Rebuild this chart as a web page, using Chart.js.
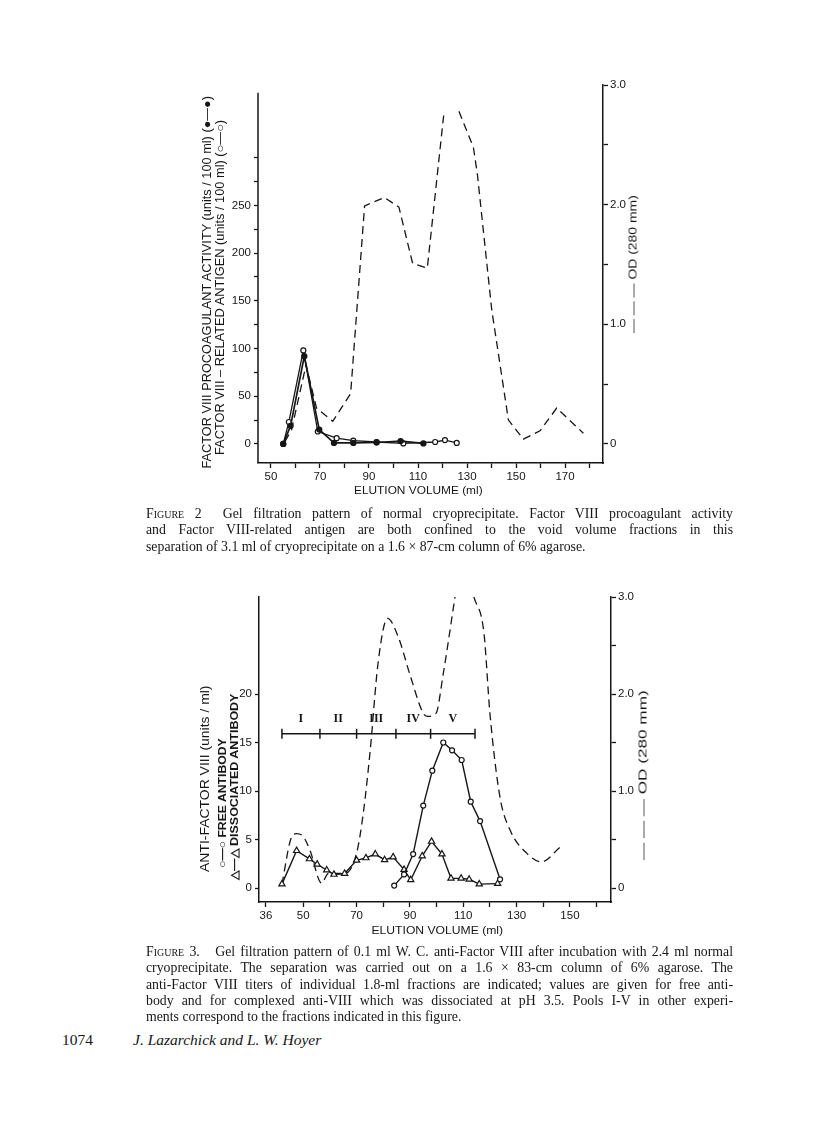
<!DOCTYPE html>
<html>
<head>
<meta charset="utf-8">
<script src="https://cdn.jsdelivr.net/npm/chart.js@4.4.0/dist/chart.umd.min.js"></script>
<style>
html, body { margin: 0; padding: 0; background: #fff; }
body { width: 816px; height: 1127px; position: relative; overflow: hidden; color: #161616; }
canvas { position: absolute; }
.rot { position: absolute; left: 0; top: 0; white-space: nowrap; transform-origin: 0 0; line-height: 1; }
.cap { position: absolute; left: 146px; width: 587px; font-family: 'Liberation Serif', serif; font-size: 13.8px; line-height: 16.3px; }
.cap div { text-align: justify; text-align-last: justify; white-space: nowrap; }
.cap div.last { text-align-last: left; }
.sc { font-variant: small-caps; }
.foot { position: absolute; top: 1031px; font-family: 'Liberation Serif', serif; font-size: 15.5px; }
</style>
</head>
<body>
<canvas id="fig2" width="470" height="440" style="left:190px; top:70px;"></canvas>
<canvas id="fig3" width="470" height="360" style="left:190px; top:585px;"></canvas>

<div class="cap" style="top:506px;">
  <div><span class="sc">Figure</span> 2&nbsp; Gel filtration pattern of normal cryoprecipitate. Factor VIII procoagulant activity</div>
  <div>and Factor VIII-related antigen are both confined to the void volume fractions in this</div>
  <div class="last">separation of 3.1 ml of cryoprecipitate on a 1.6 × 87-cm column of 6% agarose.</div>
</div>

<div class="cap" style="top:944px;">
  <div><span class="sc">Figure</span> 3.&nbsp;&nbsp; Gel filtration pattern of 0.1 ml W. C. anti-Factor VIII after incubation with 2.4 ml normal</div>
  <div>cryoprecipitate. The separation was carried out on a 1.6 × 83-cm column of 6% agarose. The</div>
  <div>anti-Factor VIII titers of individual 1.8-ml fractions are indicated; values are given for free anti-</div>
  <div>body and for complexed anti-VIII which was dissociated at pH 3.5. Pools I-V in other experi-</div>
  <div class="last">ments correspond to the fractions indicated in this figure.</div>
</div>

<div class="foot" style="left:62px;">1074</div>
<div class="foot" style="left:133px; font-style:italic;">J. Lazarchick and L. W. Hoyer</div>

<script>
// ---- Figure 2 : normal cryoprecipitate ----
const fig2ProcoagVol = [55.0, 58.0, 63.6, 69.7, 75.7, 83.6, 93.1, 102.9, 112.2];
const fig2ProcoagAct = [0, 19, 92, 15, 1, 1, 1.5, 3, 0.5];
const fig2AntigenVol = [55.0, 57.3, 63.2, 69.1, 76.8, 83.6, 93.1, 104.0, 117.0, 121.0, 125.8];
const fig2AntigenAct = [0, 23, 98, 13, 6, 3.5, 2, 0.5, 2, 4, 1];
const fig2OdVol = [55.7, 58.4, 64.3, 68.6, 75.2, 82.5, 88.2, 96.3, 102.2, 107.8, 113.8, 120.6, 123.6, 126.7, 132.6, 134.2, 140.1, 146.9, 153.0, 159.8, 166.6, 177.5];
const fig2Od = [0.02, 0.12, 0.66, 0.30, 0.19, 0.42, 1.99, 2.06, 1.98, 1.51, 1.47, 2.77, null, 2.78, 2.48, 2.26, 1.12, 0.20, 0.04, 0.11, 0.30, 0.09];

const fig2XTicks = [50, 60, 70, 80, 90, 100, 110, 120, 130, 140, 150, 160, 170, 180];
const fig2XLabels = [50, 70, 90, 110, 130, 150, 170];
const fig2YTicks = [0, 25, 50, 75, 100, 125, 150, 175, 200, 225, 250, 275, 300];
const fig2YLabels = [0, 50, 100, 150, 200, 250];
const fig2OdTicks = [0, 0.5, 1, 1.5, 2, 2.5, 3];
const fig2OdLabels = [0, 1, 2, 3];

// ---- Figure 3 : anti-Factor VIII + cryoprecipitate ----
const fig3FreeVol = [84.1, 87.8, 91.2, 95.0, 98.4, 102.5, 105.8, 109.4, 112.8, 116.3, 123.8];
const fig3FreeTiter = [0.25, 1.4, 3.5, 8.5, 12.1, 15.0, 14.2, 13.2, 8.9, 6.9, 0.9];
const fig3DissocVol = [42.0, 47.5, 52.3, 55.2, 58.8, 61.5, 65.5, 70.0, 73.5, 77.0, 80.5, 83.7, 87.8, 90.3, 94.6, 98.1, 102.0, 105.4, 109.2, 112.2, 116.0, 122.9];
const fig3DissocTiter = [0.4, 3.85, 3.0, 2.45, 1.85, 1.4, 1.5, 2.85, 3.1, 3.5, 2.9, 3.2, 1.9, 0.85, 3.3, 4.8, 3.5, 1.0, 1.0, 0.9, 0.4, 0.45];
const fig3OdVol = [42.0, 45.7, 47.5, 50.0, 52.5, 56.9, 59.4, 65.5, 70.0, 72.5, 75.0, 78.1, 81.6, 85.6, 90.0, 95.0, 96.5, 99.75, 102.5, 106.9, 110.5, 114.0, 117.75, 120.0, 123.75, 127.5, 133.75, 139.4, 146.25];
const fig3Od = [0.04, 0.53, 0.56, 0.53, 0.39, 0.05, 0.15, 0.15, 0.36, 0.77, 1.39, 2.33, 2.78, 2.59, 2.20, 1.80, 1.77, 1.80, 2.21, 3.0, null, 3.0, 2.63, 1.80, 0.94, 0.60, 0.36, 0.27, 0.42];

const fig3PoolEdges = [42.0, 56.25, 70.0, 84.75, 97.75, 114.4];
const fig3PoolNames = ['I', 'II', 'III', 'IV', 'V'];
const fig3PoolLevel = 15.9;
const fig3PoolLabelLevel = 17.4;

const fig3XTicks = [36, 50, 60, 70, 80, 90, 100, 110, 120, 130, 140, 150, 160];
const fig3XLabels = [36, 50, 70, 90, 110, 130, 150];
const fig3YTicks = [0, 5, 10, 15, 20];
const fig3OdTicks = [0, 0.5, 1, 1.5, 2, 2.5, 3];
const fig3OdLabels = [0, 1, 2, 3];

const ink = '#161616';
const sans = "'Liberation Sans', Arial, sans-serif";

Chart.defaults.font.family = sans;
Chart.defaults.color = ink;
Chart.defaults.animation = false;

function pts(xs, ys) {
    return xs.map(function (x, i) { return { x: x, y: ys[i] }; });
}

function odLabel(labels) {
    return function (v) {
        if (!labels.includes(v)) return '';
        return v === 0 ? '0' : v.toFixed(1);
    };
}

function fixedTicks(list) {
    return function (scale) { scale.ticks = list.map(function (v) { return { value: v }; }); };
}

function tickGrid(len) {
    return { drawOnChartArea: false, drawTicks: true, tickLength: len, tickColor: ink, tickWidth: 1.3, color: ink };
}

// left axis of figure 2 stops short of the top of the frame
var leftAxisLine = {
    id: 'leftAxisLine',
    afterDraw: function (chart, args, opts) {
        if (opts.top === undefined) return;
        var ctx = chart.ctx, ca = chart.chartArea;
        ctx.save();
        ctx.strokeStyle = ink;
        ctx.lineWidth = 1.5;
        ctx.beginPath();
        ctx.moveTo(ca.left, chart.scales.y.getPixelForValue(opts.top));
        ctx.lineTo(ca.left, ca.bottom);
        ctx.stroke();
        ctx.restore();
    }
};

// pool names above the I-V bracket
var poolLabels = {
    id: 'poolLabels',
    afterDatasetsDraw: function (chart, args, opts) {
        if (!opts.names) return;
        var ctx = chart.ctx, xs = chart.scales.x, ys = chart.scales.y;
        ctx.save();
        ctx.fillStyle = ink;
        ctx.font = "bold 12px 'Liberation Serif', serif";
        ctx.textAlign = 'center';
        ctx.textBaseline = 'middle';
        for (var i = 0; i < opts.names.length; i++) {
            var mid = (opts.edges[i] + opts.edges[i + 1]) / 2;
            ctx.fillText(opts.names[i], xs.getPixelForValue(mid), ys.getPixelForValue(opts.level));
        }
        ctx.restore();
    }
};

// Figure 2 chart
var fig2Chart = new Chart(document.getElementById('fig2').getContext('2d'), {
    type: 'line',
    data: {
        datasets: [{
            label: 'Procoagulant activity',
            data: pts(fig2ProcoagVol, fig2ProcoagAct),
            yAxisID: 'y',
            borderColor: ink,
            borderWidth: 1.7,
            pointRadius: 2.3,
            pointBackgroundColor: ink,
            pointBorderColor: ink,
            tension: 0
        }, {
            label: 'Related antigen',
            data: pts(fig2AntigenVol, fig2AntigenAct),
            yAxisID: 'y',
            borderColor: ink,
            borderWidth: 1.3,
            pointRadius: 2.5,
            pointBorderWidth: 1.2,
            pointBackgroundColor: '#fff',
            pointBorderColor: ink,
            tension: 0
        }, {
            label: 'OD 280',
            data: pts(fig2OdVol, fig2Od),
            yAxisID: 'y2',
            borderColor: ink,
            borderWidth: 1.3,
            borderDash: [8, 5],
            pointRadius: 0,
            spanGaps: false,
            tension: 0
        }]
    },
    options: {
        responsive: false,
        devicePixelRatio: 1,
        layout: { padding: { top: 15, left: 0, right: 0, bottom: 0 } },
        plugins: {
            legend: { display: false },
            tooltip: { enabled: false },
            leftAxisLine: { top: 368 },
            poolLabels: {}
        },
        scales: {
            x: {
                type: 'linear', min: 44.7, max: 185.5,
                afterBuildTicks: fixedTicks(fig2XTicks),
                afterFit: function (s) { s.height = 47; },
                ticks: { autoSkip: false, maxRotation: 0, padding: 2, font: { size: 11.5 },
                    callback: function (v) { return fig2XLabels.includes(v) ? String(v) : ''; } },
                grid: tickGrid(5),
                border: { display: true, color: ink, width: 1.5 }
            },
            y: {
                type: 'linear', position: 'left', min: -20, max: 376.2,
                afterBuildTicks: fixedTicks(fig2YTicks),
                afterFit: function (s) { s.width = 68; },
                ticks: { autoSkip: false, padding: 3, font: { size: 11.5 },
                    callback: function (v) { return fig2YLabels.includes(v) ? String(v) : ''; } },
                grid: tickGrid(4),
                border: { display: false }
            },
            y2: {
                type: 'linear', position: 'right', min: -0.159, max: 3.0,
                afterBuildTicks: fixedTicks(fig2OdTicks),
                afterFit: function (s) { s.width = 57; },
                ticks: { autoSkip: false, padding: 2, font: { size: 11.5 }, callback: odLabel(fig2OdLabels) },
                grid: tickGrid(5),
                border: { display: true, color: ink, width: 1.5 }
            }
        }
    },
    plugins: [leftAxisLine, poolLabels]
});

// Figure 3 chart
var fig3Chart = new Chart(document.getElementById('fig3').getContext('2d'), {
    type: 'line',
    data: {
        datasets: [{
            label: 'Free antibody',
            data: pts(fig3FreeVol, fig3FreeTiter),
            yAxisID: 'y',
            borderColor: ink,
            borderWidth: 1.4,
            pointRadius: 2.5,
            pointBorderWidth: 1.2,
            pointBackgroundColor: '#fff',
            pointBorderColor: ink,
            tension: 0
        }, {
            label: 'Dissociated antibody',
            data: pts(fig3DissocVol, fig3DissocTiter),
            yAxisID: 'y',
            borderColor: ink,
            borderWidth: 1.4,
            pointStyle: 'triangle',
            pointRadius: 3.6,
            pointBorderWidth: 1.2,
            pointBackgroundColor: '#fff',
            pointBorderColor: ink,
            tension: 0
        }, {
            label: 'Pools',
            data: fig3PoolEdges.map(function (x) { return { x: x, y: fig3PoolLevel }; }),
            yAxisID: 'y',
            borderColor: ink,
            borderWidth: 1.5,
            pointStyle: 'line',
            pointRotation: 90,
            pointRadius: 5,
            pointBorderWidth: 1.5,
            pointBorderColor: ink,
            tension: 0
        }, {
            label: 'OD 280',
            data: pts(fig3OdVol, fig3Od),
            yAxisID: 'y2',
            borderColor: ink,
            borderWidth: 1.3,
            borderDash: [8, 5],
            pointRadius: 0,
            spanGaps: false,
            cubicInterpolationMode: 'monotone'
        }]
    },
    options: {
        responsive: false,
        devicePixelRatio: 1,
        layout: { padding: { top: 12, left: 0, right: 0, bottom: 0 } },
        plugins: {
            legend: { display: false },
            tooltip: { enabled: false },
            leftAxisLine: {},
            poolLabels: { names: fig3PoolNames, edges: fig3PoolEdges, level: fig3PoolLabelLevel }
        },
        scales: {
            x: {
                type: 'linear', min: 33.4, max: 165.4,
                afterBuildTicks: fixedTicks(fig3XTicks),
                afterFit: function (s) { s.height = 43; },
                ticks: { autoSkip: false, maxRotation: 0, padding: 2, font: { size: 11.5 },
                    callback: function (v) { return fig3XLabels.includes(v) ? String(v) : ''; } },
                grid: tickGrid(5),
                border: { display: true, color: ink, width: 1.5 }
            },
            y: {
                type: 'linear', position: 'left', min: -1.44, max: 30.0,
                afterBuildTicks: fixedTicks(fig3YTicks),
                afterFit: function (s) { s.width = 69; },
                ticks: { autoSkip: false, padding: 3, font: { size: 11.5 } },
                grid: tickGrid(4),
                border: { display: true, color: ink, width: 1.5 }
            },
            y2: {
                type: 'linear', position: 'right', min: -0.144, max: 3.0,
                afterBuildTicks: fixedTicks(fig3OdTicks),
                afterFit: function (s) { s.width = 49; },
                ticks: { autoSkip: false, padding: 2, font: { size: 11.5 }, callback: odLabel(fig3OdLabels) },
                grid: tickGrid(5),
                border: { display: true, color: ink, width: 1.5 }
            }
        }
    },
    plugins: [leftAxisLine, poolLabels]
});

// rotated / placed axis titles (real text, stretched to the printed length)
function axisText(text, cx, cy, len, size, weight, rotate) {
    var el = document.createElement('div');
    el.className = 'rot';
    el.style.fontFamily = sans;
    el.style.fontSize = size + 'px';
    el.style.fontWeight = weight;
    el.textContent = text;
    document.body.appendChild(el);
    var w = el.offsetWidth, h = el.offsetHeight;
    el.style.transform = 'translate(' + cx + 'px,' + cy + 'px) rotate(' + (rotate ? -90 : 0) + 'deg) scale(' + (len / w) + ',1) translate(' + (-w / 2) + 'px,' + (-h / 2) + 'px)';
}

axisText('FACTOR  VIII  PROCOAGULANT  ACTIVITY  (units / 100 ml)  (\u25CF\u2014\u25CF)', 206.5, 282, 373, 12, 'normal', true);
axisText('FACTOR  VIII \u2013 RELATED  ANTIGEN  (units / 100 ml)  (\u25CB\u2014\u25CB)', 220, 287.5, 335, 12, 'normal', true);
axisText('\u2014 \u2014 \u2014  OD  (280 mm)', 633, 264, 138, 10.5, 'normal', true);
axisText('ELUTION   VOLUME   (ml)', 418.5, 491, 129, 11.5, 'normal', false);

axisText('ANTI-FACTOR  VIII  (units / ml)', 205, 778.5, 187, 13.5, 'normal', true);
axisText('\u25CB\u2014\u25CB  FREE  ANTIBODY', 222, 803, 130, 11, 'bold', true);
axisText('\u25B3\u2014\u25B3  DISSOCIATED  ANTIBODY', 234, 786.5, 187, 11, 'bold', true);
axisText('\u2014 \u2014 \u2014  OD   (280  mm)', 643, 775, 170, 11, 'normal', true);
axisText('ELUTION   VOLUME   (ml)', 437.5, 930.5, 132, 11.5, 'normal', false);

// squeeze any caption line that is wider than the column, so the breaks stay as printed
document.querySelectorAll('.cap div').forEach(function (d) {
    var probe = document.createElement('span');
    probe.innerHTML = d.innerHTML;
    probe.style.whiteSpace = 'nowrap';
    d.parentNode.appendChild(probe);
    var w = probe.offsetWidth;
    probe.remove();
    var n = d.textContent.length;
    if (w > 585) d.style.letterSpacing = (-(w - 585) / n).toFixed(3) + 'px';
});
</script>
</body>
</html>
